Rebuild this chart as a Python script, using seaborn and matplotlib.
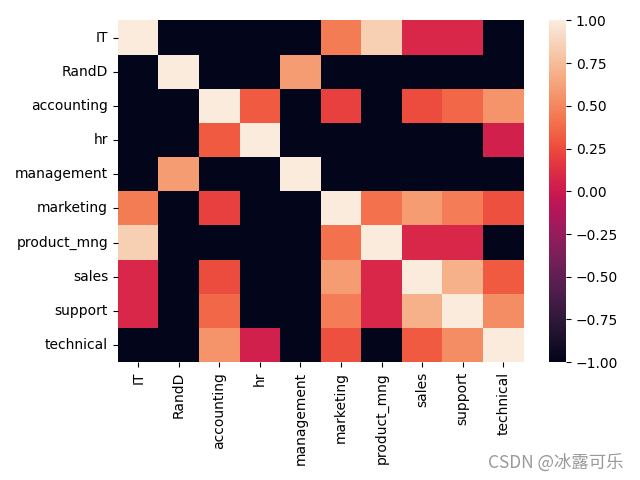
import numpy as np
import pandas as pd
import matplotlib
matplotlib.use('Agg')
import matplotlib.pyplot as plt
import seaborn as sns

# department labels
depts = ['IT', 'RandD', 'accounting', 'hr', 'management',
         'marketing', 'product_mng', 'sales', 'support', 'technical']

# correlation values, one row per department
row_it = [1.00, -1.00, -1.00, -1.00, -1.00, 0.45, 0.85, 0.08, 0.08, -1.00]
row_randd = [-1.00, 1.00, -1.00, -1.00, 0.60, -1.00, -1.00, -1.00, -1.00, -1.00]
row_acc = [-1.00, -1.00, 1.00, 0.31, -1.00, 0.20, -1.00, 0.25, 0.36, 0.56]
row_hr = [-1.00, -1.00, 0.31, 1.00, -1.00, -1.00, -1.00, -1.00, -1.00, 0.04]
row_mgmt = [-1.00, 0.60, -1.00, -1.00, 1.00, -1.00, -1.00, -1.00, -1.00, -1.00]
row_mkt = [0.45, -1.00, 0.20, -1.00, -1.00, 1.00, 0.40, 0.60, 0.46, 0.27]
row_pm = [0.85, -1.00, -1.00, -1.00, -1.00, 0.40, 1.00, 0.08, 0.08, -1.00]
row_sales = [0.08, -1.00, 0.25, -1.00, -1.00, 0.60, 0.08, 1.00, 0.70, 0.31]
row_support = [0.08, -1.00, 0.36, -1.00, -1.00, 0.46, 0.08, 0.70, 1.00, 0.53]
row_tech = [-1.00, -1.00, 0.56, 0.04, -1.00, 0.27, -1.00, 0.31, 0.53, 1.00]

corr = pd.DataFrame([row_it, row_randd, row_acc, row_hr, row_mgmt,
                     row_mkt, row_pm, row_sales, row_support, row_tech],
                    index=depts, columns=depts)

fig = plt.figure(figsize=(6.4, 4.8), dpi=100)
ax = sns.heatmap(corr, vmin=-1, vmax=1)
plt.tight_layout()

# watermark
fig.text(0.975, 0.037, 'CSDN @冰露可乐', ha='right', va='center',
         fontsize=12.5, color='#999999',
         family=['Noto Sans CJK SC', 'DejaVu Sans'])

plt.savefig('out.png')
